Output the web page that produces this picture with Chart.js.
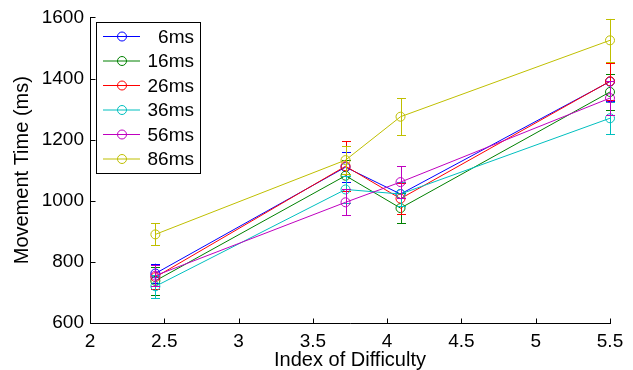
<!DOCTYPE html>
<html>
<head>
<meta charset="utf-8">
<script src="https://cdn.jsdelivr.net/npm/chart.js@4.4.1/dist/chart.umd.min.js"></script>
<style>
html,body{margin:0;padding:0;background:#fff;}
#wrap{width:633px;height:370px;}
</style>
</head>
<body>
<div id="wrap"><canvas id="c" width="633" height="370"></canvas></div>
<script>
// ---- data ----
const xValues = [2.44, 3.72, 4.09, 5.5];
const seriesNames = ['6ms', '16ms', '26ms', '36ms', '56ms', '86ms'];
const seriesColors = ['#0000ff', '#008000', '#ff0000', '#00bfbf', '#bf00bf', '#bfbf00'];
const ms6  = [762, 1110, 1022, 1390];
const ms16 = [738, 1082, 976, 1356];
const ms26 = [750, 1113, 1007, 1391];
const ms36 = [720, 1037, 1022, 1270];
const ms56 = [755, 995, 1061, 1336];
const ms86 = [890, 1133, 1275, 1525];
const err6  = [32, 48, 40, 62];
const err16 = [45, 50, 50, 58];
const err26 = [40, 82, 50, 60];
const err36 = [38, 45, 40, 53];
const err56 = [35, 43, 52, 55];
const err86 = [36, 45, 60, 70];
const xTickLabels = ['2', '2.5', '3', '3.5', '4', '4.5', '5', '5.5'];
const yTickLabels = ['600', '800', '1000', '1200', '1400', '1600'];
const xTitle = 'Index of Difficulty';
const yTitle = 'Movement Time (ms)';

const seriesValues = [ms6, ms16, ms26, ms36, ms56, ms86];
const seriesErrors = [err6, err16, err26, err36, err56, err86];
const FONT = '"Liberation Sans", Arial, Helvetica, sans-serif';

const datasets = seriesValues.map((vals, i) => ({
  label: seriesNames[i],
  data: vals.map((v, j) => ({x: xValues[j], y: v})),
  borderColor: seriesColors[i],
  backgroundColor: 'rgba(0,0,0,0)',
  borderWidth: 1,
  pointRadius: 4.5,
  pointHoverRadius: 4.5,
  pointBorderWidth: 1,
  pointBackgroundColor: 'rgba(0,0,0,0)',
  pointBorderColor: seriesColors[i],
  tension: 0,
  clip: false,
  order: seriesValues.length - 1 - i,
  errors: seriesErrors[i]
}));

const errorBarPlugin = {
  id: 'errorBars',
  afterDatasetDraw(chart, args) {
    const ds = chart.data.datasets[args.index];
    const xs = chart.scales.x, ys = chart.scales.y;
    const ctx = chart.ctx;
    ctx.save();
    ctx.strokeStyle = ds.borderColor;
    ctx.lineWidth = 1;
    const cap = 4.5;
    ds.data.forEach((p, j) => {
      const e = ds.errors[j];
      const px = Math.round(xs.getPixelForValue(p.x)) + 0.5;
      const yt = ys.getPixelForValue(p.y + e);
      const yb = ys.getPixelForValue(p.y - e);
      ctx.beginPath();
      ctx.moveTo(px, yt); ctx.lineTo(px, yb);
      ctx.moveTo(px - cap, Math.round(yt) + 0.5); ctx.lineTo(px + cap, Math.round(yt) + 0.5);
      ctx.moveTo(px - cap, Math.round(yb) + 0.5); ctx.lineTo(px + cap, Math.round(yb) + 0.5);
      ctx.stroke();
    });
    ctx.restore();
  }
};

const axesPlugin = {
  id: 'matlabAxes',
  afterDraw(chart) {
    const ctx = chart.ctx;
    const xs = chart.scales.x, ys = chart.scales.y;
    const a = chart.chartArea;
    ctx.save();
    ctx.strokeStyle = '#000';
    ctx.lineWidth = 1;
    const L = Math.round(a.left) + 0.5, B = Math.round(a.bottom) + 0.5;
    ctx.beginPath();
    ctx.moveTo(L, Math.round(a.top)); ctx.lineTo(L, B);
    ctx.lineTo(Math.round(a.right) + 1, B);
    const tl = 5;
    xTickLabels.forEach(t => {
      const px = Math.round(xs.getPixelForValue(parseFloat(t))) + 0.5;
      ctx.moveTo(px, B); ctx.lineTo(px, B - tl);
    });
    yTickLabels.forEach(t => {
      const py = Math.round(ys.getPixelForValue(parseFloat(t))) + 0.5;
      ctx.moveTo(L, py); ctx.lineTo(L + tl, py);
    });
    ctx.stroke();

    // legend
    const bx = 96.5, by = 22.5, bw = 104, bh = 151;
    ctx.fillStyle = '#fff';
    ctx.fillRect(bx, by, bw, bh);
    ctx.strokeRect(bx, by, bw, bh);
    ctx.font = '19px ' + FONT;
    ctx.textAlign = 'right';
    ctx.textBaseline = 'middle';
    seriesNames.forEach((n, i) => {
      const y = 36.5 + i * 24.5;
      ctx.strokeStyle = seriesColors[i];
      ctx.beginPath();
      ctx.moveTo(103, y); ctx.lineTo(140, y);
      ctx.stroke();
      ctx.beginPath();
      ctx.arc(122, y, 4.5, 0, Math.PI * 2);
      ctx.stroke();
      ctx.fillStyle = '#000';
      ctx.fillText(n, 194, y + 1);
    });
    ctx.restore();
  }
};

new Chart(document.getElementById('c'), {
  type: 'line',
  data: {datasets},
  plugins: [errorBarPlugin, axesPlugin],
  options: {
    responsive: false,
    animation: false,
    events: [],
    layout: {padding: {top: 16, right: 23, left: 0, bottom: 0}},
    plugins: {legend: {display: false}, tooltip: {enabled: false}},
    scales: {
      x: {
        type: 'linear',
        min: 2, max: 5.5,
        afterBuildTicks(s) { s.ticks = xTickLabels.map(t => ({value: parseFloat(t)})); },
        afterFit(s) { s.height = 47; },
        grid: {display: false, drawTicks: false},
        border: {display: false},
        ticks: {
          padding: 7,
          color: '#000',
          font: {family: FONT, size: 19},
          maxRotation: 0,
          autoSkip: false,
          callback: (v, i) => xTickLabels[i]
        },
        title: {display: true, text: xTitle, color: '#000', font: {family: FONT, size: 20, lineHeight: 1}, padding: {top: 0, bottom: 0}}
      },
      y: {
        type: 'linear',
        min: 600, max: 1600,
        afterBuildTicks(s) { s.ticks = yTickLabels.map(t => ({value: parseFloat(t)})); },
        afterFit(s) { s.width = 90; },
        grid: {display: false, drawTicks: false},
        border: {display: false},
        ticks: {
          padding: 6,
          color: '#000',
          font: {family: FONT, size: 19},
          autoSkip: false,
          callback: (v, i) => yTickLabels[i]
        },
        title: {display: true, text: yTitle, color: '#000', font: {family: FONT, size: 20, lineHeight: 1}, padding: {top: 12, bottom: 0}}
      }
    }
  }
});
</script>
</body>
</html>
